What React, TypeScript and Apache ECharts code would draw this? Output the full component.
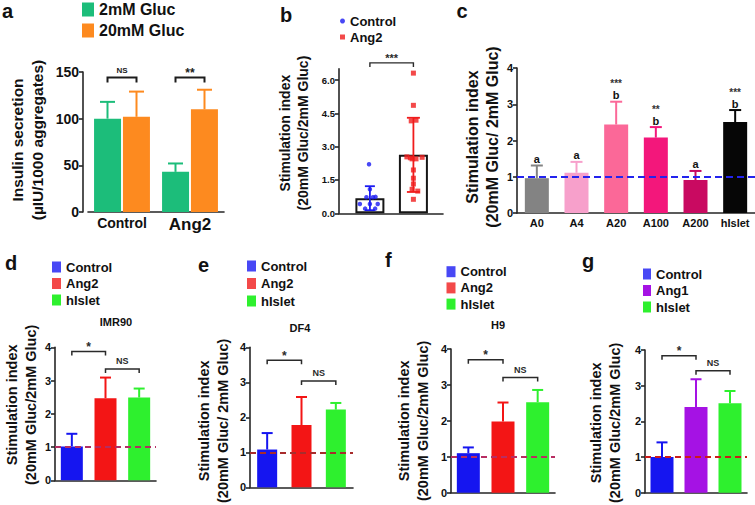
import React, { useEffect, useRef } from "react";
import * as echarts from "echarts";

const FONT = "'Liberation Sans', Arial, Helvetica, sans-serif";
const INK = "#111111";

// ---------- panel a : insulin secretion ----------
const aCategories = ["Control", "Ang2"];
const aSeriesNames = ["2mM Gluc", "20mM Gluc"];
const aLowMean = [100, 43];
const aLowSD = [18, 9];
const aHighMean = [102, 110];
const aHighSD = [27, 21];
const aSigLabels = ["NS", "**"];
const aSigHeights = [144, 144];

// ---------- panel b : stimulation index, individual points ----------
const bGroups = ["Control", "Ang2"];
const bMeans = [0.68, 2.63];
const bSD = [0.54, 1.67];
const bControlPoints = [
  [-0.02, 2.21], [0, 1.08], [-0.08, 0.72], [0.07, 0.72], [0.13, 0.74],
  [-0.23, 0.42], [0, 0.42], [0.18, 0.42], [-0.11, 0.21], [0.12, 0.21],
];
const bAng2Points = [
  [1, 6.31], [1, 4.86], [0.95, 4.16], [1.06, 4.19], [0.85, 2.54], [0.93, 2.5],
  [0.97, 2.45], [1.06, 2.45], [1.2, 2.52], [1, 1.95], [1, 1.58], [1, 1.32],
  [0.97, 1.08], [1.1, 1.0], [1, 0.63],
];
const bTickValues = [0, 1.5, 3, 4.5, 6];
const bSigLabels = ["***"];
const bSigHeights = [6.77];

// ---------- panel c : angiopoietin doses ----------
const cCategories = ["A0", "A4", "A20", "A100", "A200", "hIslet"];
const cMeans = [0.96, 1.11, 2.44, 2.08, 0.91, 2.51];
const cSD = [0.35, 0.3, 0.63, 0.29, 0.25, 0.33];
const cLetters = ["a", "a", "b", "b", "a", "b"];
const cStars = ["", "", "***", "**", "", "***"];

// ---------- panels d-g : cell lines ----------
const groupsAng2 = ["Control", "Ang2", "hIslet"];
const groupsAng1 = ["Control", "Ang1", "hIslet"];
const bracketPairs = [[0, 1], [1, 2]];
const bracketLabels = ["*", "NS"];

const dMeans = [1.02, 2.47, 2.49];
const dSD = [0.38, 0.62, 0.27];
const dBracketY = [3.87, 3.35];

const eMeans = [1.08, 1.78, 2.22];
const eSD = [0.47, 0.8, 0.19];
const eBracketY = [3.63, 3.04];

const fMeans = [1.1, 1.98, 2.52];
const fSD = [0.16, 0.53, 0.34];
const fBracketY = [3.7, 3.21];

const gMeans = [1.0, 2.4, 2.51];
const gSD = [0.41, 0.78, 0.34];
const gBracketY = [3.84, 3.42];

const smallTitles = ["IMR90", "DF4", "H9"];

// ---------- styles ----------
const aColors = ["#1cbd7a", "#fd8a1f"];
const bColors = ["#1a1af2", "#f01c1c"];
const cColors = ["#838383", "#f7a0cb", "#fb6898", "#f3177b", "#c90a61", "#060606"];
const triColors = ["#1515f0", "#f31515", "#2ef02e"];
const triColorsG = ["#1515f0", "#a512e4", "#2ef02e"];

const axisLineStyle = { color: "#262626", width: 1.6 };

function boldFont(size: number) {
  return `bold ${size}px ${FONT}`;
}

function yAxisValue(k: number, max: number, interval: number, labelSize: number, name: string, nameSize: number, lh: number, gap: number, pad: number[], offset = 0) {
  return {
    type: "value",
    gridIndex: k,
    min: 0,
    max,
    interval,
    offset,
    splitLine: { show: false },
    axisLine: { show: true, onZero: false, lineStyle: axisLineStyle },
    axisTick: { show: true, length: 4, lineStyle: axisLineStyle },
    axisLabel: { fontSize: labelSize, fontWeight: "bold", color: INK, fontFamily: FONT, margin: 4 },
    name,
    nameLocation: "middle",
    nameRotate: 90,
    nameGap: gap,
    nameTextStyle: { fontSize: nameSize, fontWeight: "bold", color: INK, fontFamily: FONT, lineHeight: lh, padding: pad },
  };
}

function upErrorRender(colors: string[], capHalf: number, offsetPx: number, lw: number) {
  return (params: any, api: any) => {
    const x = api.value(0);
    const m = api.value(1);
    const sd = api.value(2);
    const base = api.coord([x, m]);
    const top = api.coord([x, m + sd]);
    const cx = base[0] + offsetPx;
    const color = colors[params.dataIndex % colors.length];
    return {
      type: "group",
      children: [
        { type: "line", shape: { x1: cx, y1: base[1], x2: cx, y2: top[1] }, style: { stroke: color, lineWidth: lw } },
        { type: "line", shape: { x1: cx - capHalf, y1: top[1], x2: cx + capHalf, y2: top[1] }, style: { stroke: color, lineWidth: lw } },
      ],
    };
  };
}

function bracketRender(labels: string[], drop: number, color: string, lw: number, starSize: number, textSize: number, halfSpan: number) {
  return (params: any, api: any) => {
    const label = labels[params.dataIndex];
    const y = api.value(2);
    const p1 = api.coord([api.value(0), y]);
    const p2 = api.coord([api.value(1), y]);
    let x1 = p1[0];
    let x2 = p2[0];
    if (halfSpan > 0) {
      x1 = p1[0] - halfSpan;
      x2 = p1[0] + halfSpan;
    }
    const yy = p1[1];
    const isStar = label.indexOf("*") >= 0;
    const ty = yy - (isStar ? 4.5 : 7.5);
    return {
      type: "group",
      children: [
        {
          type: "polyline",
          shape: { points: [[x1, yy + drop], [x1, yy], [x2, yy], [x2, yy + drop]] },
          style: { stroke: color, lineWidth: lw, fill: "none" },
        },
        {
          type: "text",
          x: (x1 + x2) / 2,
          y: ty,
          style: {
            text: label,
            font: boldFont(isStar ? starSize : textSize),
            fill: color,
            textAlign: "center",
            align: "center",
            textVerticalAlign: "middle",
            verticalAlign: "middle",
          },
        },
      ],
    };
  };
}

function smallPanelSeries(k: number, names: string[], means: number[], sds: number[], colors: string[], bracketY: number[], dash: string, barWidth: number) {
  const series: any[] = names.map((name, i) => ({
    type: "bar",
    name,
    xAxisIndex: k,
    yAxisIndex: k,
    barWidth,
    barGap: "-100%",
    itemStyle: { color: colors[i] },
    data: means.map((m, j) => (j === i ? m : "-")),
    markLine:
      i === names.length - 1
        ? {
            silent: true,
            symbol: "none",
            label: { show: false },
            lineStyle: { type: [6, 4], color: dash, width: 1.8 },
            data: [{ yAxis: 1 }],
          }
        : undefined,
  }));
  series.push({
    type: "custom",
    name: `err${k}`,
    xAxisIndex: k,
    yAxisIndex: k,
    renderItem: upErrorRender(colors, 5.5, 0, 2),
    encode: { x: 0, y: 1 },
    data: means.map((m, i) => [i, m, sds[i]]),
    z: 3,
  });
  series.push({
    type: "custom",
    name: `sig${k}`,
    xAxisIndex: k,
    yAxisIndex: k,
    renderItem: bracketRender(bracketLabels, 4, "#2a2a2a", 1.5, 12, 9, 0),
    encode: { x: 0, y: 2 },
    data: bracketPairs.map((p, i) => [p[0], p[1], bracketY[i]]),
    z: 3,
  });
  return series;
}

function smallYAxis(k: number, secondLine: string, gap: number, pad: number[]) {
  return yAxisValue(k, 4, 1, 11, `Stimulation index\n${secondLine}`, 14.5, 19, gap, pad);
}

function smallXAxis(k: number, names: string[]) {
  return {
    type: "category",
    gridIndex: k,
    data: names,
    axisLine: { show: true, onZero: false, lineStyle: axisLineStyle },
    axisTick: { show: false },
    axisLabel: { show: false },
    splitLine: { show: false },
  };
}

function legendFor(names: any[], left: number, top: number, itemWidth: number, itemHeight: number, fontSize: number, lh: number, itemGap: number, icon?: string) {
  return {
    orient: "vertical",
    left,
    top,
    padding: 0,
    itemWidth,
    itemHeight,
    itemGap,
    ...(icon ? { icon } : {}),
    selectedMode: false,
    data: names,
    textStyle: { fontSize, fontWeight: "bold", color: INK, fontFamily: FONT, lineHeight: lh },
  };
}

function gText(text: string, x: number, y: number, size: number, align = "left") {
  return {
    type: "text",
    x,
    y,
    style: {
      text,
      font: boldFont(size),
      fill: INK,
      textAlign: align,
      align,
      textVerticalAlign: "middle",
      verticalAlign: "middle",
    },
  };
}

function cText(text: string, x: number, y: number, size: number, color: string) {
  return {
    type: "text",
    x,
    y,
    style: {
      text,
      font: boldFont(size),
      fill: color,
      lineHeight: size,
      textAlign: "center",
      align: "center",
      textVerticalAlign: "middle",
      verticalAlign: "middle",
    },
  };
}

function buildOption(): any {
  const grids = [
    { left: 88, top: 72, width: 136, height: 140 },
    { left: 339, top: 68.9, width: 104, height: 144.4 },
    { left: 517, top: 68, width: 238, height: 145 },
    { left: 55, top: 347.3, width: 101, height: 143.4 },
    { left: 250, top: 347.3, width: 103, height: 144.4 },
    { left: 451, top: 349, width: 104, height: 143.7 },
    { left: 645, top: 350, width: 102, height: 143.3 },
  ];

  const xAxes: any[] = [
    {
      type: "category",
      gridIndex: 0,
      data: aCategories,
      axisLine: { show: true, onZero: false, lineStyle: axisLineStyle },
      axisTick: { show: false },
      axisLabel: {
        margin: 4,
        interval: 0,
        formatter: (v: string) => (v === "Control" ? `{c|${v}}` : `{g|${v}}`),
        rich: {
          c: { fontSize: 14, fontWeight: "bold", color: INK, fontFamily: FONT },
          g: { fontSize: 17, fontWeight: "bold", color: INK, fontFamily: FONT },
        },
      },
    },
    {
      type: "value",
      gridIndex: 1,
      min: -0.71,
      max: 1.68,
      splitLine: { show: false },
      axisLine: { show: true, onZero: false, lineStyle: axisLineStyle },
      axisTick: { show: false },
      axisLabel: { show: false },
    },
    {
      type: "category",
      gridIndex: 2,
      data: cCategories,
      axisLine: { show: true, onZero: false, lineStyle: axisLineStyle },
      axisTick: { show: false },
      axisLabel: { margin: 4, fontSize: 11, fontWeight: "bold", color: INK, fontFamily: FONT, interval: 0 },
    },
    smallXAxis(3, groupsAng2),
    smallXAxis(4, groupsAng2),
    smallXAxis(5, groupsAng2),
    smallXAxis(6, groupsAng1),
  ];

  const bY: any = yAxisValue(1, 6.5, 1.5, 9.5, "Stimulation index\n(20mM Gluc/2mM Gluc)", 14, 18, 27, [0, 0, 0, 16]);
  delete bY.interval;
  bY.axisLabel = { ...bY.axisLabel, customValues: bTickValues, formatter: (v: number) => v.toFixed(1) };
  bY.axisTick = { ...bY.axisTick, customValues: bTickValues };

  const yAxes: any[] = [
    yAxisValue(0, 150, 50, 14, "Insulin secretion\n(µIU/1000 aggregates)", 15.5, 20, 36, [0, 0, 0, 4], 5),
    bY,
    yAxisValue(2, 4, 1, 11, "Stimulation index\n(20mM Gluc/ 2mM Gluc)", 16, 20, 11, [0, 0, 0, 7]),
    smallYAxis(3, "(20mM Gluc/2mM Gluc)", 12.5, [0, 0, 0, 18]),
    smallYAxis(4, "(20mM Gluc/ 2mM Gluc)", 17.5, [0, 7, 0, 0]),
    smallYAxis(5, "(20mM Gluc/2mM Gluc)", 18.5, [0, 0, 0, 0]),
    smallYAxis(6, "(20mM Gluc/2mM Gluc)", 20.5, [0, 3, 0, 0]),
  ];

  const series: any[] = [];

  // panel b first so that shared legend names take its colours
  series.push({
    type: "bar",
    name: "b mean",
    xAxisIndex: 1,
    yAxisIndex: 1,
    barWidth: 29,
    itemStyle: { color: "#ffffff", borderColor: "#161616", borderWidth: 2 },
    data: bMeans.map((m, i) => [i, m]),
  });
  series.push({
    type: "scatter",
    name: bGroups[0],
    xAxisIndex: 1,
    yAxisIndex: 1,
    symbol: "circle",
    symbolSize: 4.5,
    itemStyle: { color: bColors[0] },
    data: bControlPoints,
    z: 4,
  });
  series.push({
    type: "scatter",
    name: bGroups[1],
    xAxisIndex: 1,
    yAxisIndex: 1,
    symbol: "rect",
    symbolSize: 5,
    itemStyle: { color: bColors[1] },
    data: bAng2Points,
    z: 4,
  });
  series.push({
    type: "custom",
    name: "b err",
    xAxisIndex: 1,
    yAxisIndex: 1,
    encode: { x: 0, y: 1 },
    data: bMeans.map((m, i) => [i, m, bSD[i]]),
    z: 3,
    renderItem: (params: any, api: any) => {
      const x = api.value(0);
      const m = api.value(1);
      const sd = api.value(2);
      const lo = api.coord([x, m - sd]);
      const hi = api.coord([x, m + sd]);
      const col = bColors[params.dataIndex];
      const half = params.dataIndex === 0 ? 5 : 6.5;
      const st = { stroke: col, lineWidth: 1.8 };
      return {
        type: "group",
        children: [
          { type: "line", shape: { x1: lo[0], y1: lo[1], x2: hi[0], y2: hi[1] }, style: st },
          { type: "line", shape: { x1: hi[0] - half, y1: hi[1], x2: hi[0] + half, y2: hi[1] }, style: st },
          { type: "line", shape: { x1: lo[0] - half, y1: lo[1], x2: lo[0] + half, y2: lo[1] }, style: st },
        ],
      };
    },
  });
  series.push({
    type: "custom",
    name: "b sig",
    xAxisIndex: 1,
    yAxisIndex: 1,
    encode: { x: 0, y: 2 },
    data: bSigHeights.map((h) => [0, 1, h]),
    renderItem: bracketRender(bSigLabels, 4, "#2a2a2a", 1.4, 11, 9, 0),
  });

  // panel a
  const aMeansAll = [aLowMean, aHighMean];
  const aSDAll = [aLowSD, aHighSD];
  aSeriesNames.forEach((name, s) => {
    series.push({
      type: "bar",
      name,
      xAxisIndex: 0,
      yAxisIndex: 0,
      barWidth: 27,
      barGap: "7%",
      itemStyle: { color: aColors[s] },
      data: aMeansAll[s],
    });
  });
  aSeriesNames.forEach((name, s) => {
    series.push({
      type: "custom",
      name: `${name} err`,
      xAxisIndex: 0,
      yAxisIndex: 0,
      encode: { x: 0, y: 1 },
      data: aMeansAll[s].map((m, i) => [i, m, aSDAll[s][i]]),
      renderItem: upErrorRender([aColors[s]], 7.5, s === 0 ? -14.5 : 14.5, 2),
      z: 3,
    });
  });
  series.push({
    type: "custom",
    name: "a sig",
    xAxisIndex: 0,
    yAxisIndex: 0,
    encode: { x: 0, y: 2 },
    data: aSigHeights.map((h, i) => [i, i, h]),
    renderItem: bracketRender(aSigLabels, 5, "#1c1c1c", 2, 12, 8, 14.5),
  });

  // panel c
  series.push({
    type: "bar",
    name: "Stimulation index",
    xAxisIndex: 2,
    yAxisIndex: 2,
    barWidth: 24,
    data: cMeans.map((m, i) => ({ value: m, itemStyle: { color: cColors[i] } })),
    markLine: {
      silent: true,
      symbol: "none",
      label: { show: false },
      lineStyle: { type: [7, 4], color: "#2323ee", width: 2 },
      data: [{ yAxis: 1 }],
    },
  });
  series.push({
    type: "custom",
    name: "c err",
    xAxisIndex: 2,
    yAxisIndex: 2,
    encode: { x: 0, y: 1 },
    data: cMeans.map((m, i) => [i, m, cSD[i]]),
    z: 3,
    renderItem: (params: any, api: any) => {
      const i = params.dataIndex;
      const x = api.value(0);
      const m = api.value(1);
      const sd = api.value(2);
      const base = api.coord([x, m]);
      const top = api.coord([x, m + sd]);
      const col = cColors[i];
      const st = { stroke: col, lineWidth: 2 };
      const children: any[] = [
        { type: "line", shape: { x1: base[0], y1: base[1], x2: base[0], y2: top[1] }, style: st },
        { type: "line", shape: { x1: base[0] - 6, y1: top[1], x2: base[0] + 6, y2: top[1] }, style: st },
        cText(cLetters[i], base[0], top[1] - 6.5, 11, INK),
      ];
      if (cStars[i]) {
        children.push(cText(cStars[i], base[0], top[1] - 18, 10, "#333333"));
      }
      return { type: "group", children };
    },
  });

  // panels d-g
  series.push(...smallPanelSeries(3, groupsAng2, dMeans, dSD, triColors, dBracketY, "#b42d62", 22));
  series.push(...smallPanelSeries(4, groupsAng2, eMeans, eSD, triColors, eBracketY, "#a82c2c", 20));
  series.push(...smallPanelSeries(5, groupsAng2, fMeans, fSD, triColors, fBracketY, "#b82d62", 23));
  series.push(...smallPanelSeries(6, groupsAng1, gMeans, gSD, triColorsG, gBracketY, "#cc1a1a", 23));

  const legends = [
    legendFor(aSeriesNames, 82, 0.5, 12, 14, 16, 18, 3, "rect"),
    legendFor([{ name: bGroups[0], icon: "circle" }, { name: bGroups[1], icon: "rect" }], 340, 14, 5, 5, 13, 14, 2),
    legendFor(groupsAng2, 52, 259.5, 9, 11, 13, 15, 1.5, "rect"),
    legendFor(groupsAng2, 247, 258.5, 9, 11, 13, 15, 2.5, "rect"),
    legendFor(groupsAng2, 446.5, 264.2, 9, 11, 13, 15, 1.2, "rect"),
    legendFor(groupsAng1, 643, 266.5, 8, 11, 13, 15, 1.5, "rect"),
  ];

  const graphics = [
    gText("a", 2, 11.4, 20),
    gText("b", 280, 14.7, 20),
    gText("c", 456.5, 11.3, 20),
    gText("d", 5, 263, 20),
    gText("e", 198, 264.7, 20),
    gText("f", 385, 259.7, 20),
    gText("g", 582, 260.7, 20),
    gText(smallTitles[0], 116, 322.2, 11, "center"),
    gText(smallTitles[1], 300, 328, 11, "center"),
    gText(smallTitles[2], 498, 325, 11, "center"),
  ];

  return {
    animation: false,
    backgroundColor: "#ffffff",
    textStyle: { fontFamily: FONT },
    grid: grids,
    xAxis: xAxes,
    yAxis: yAxes,
    legend: legends,
    graphic: graphics,
    series,
  };
}

export default function App() {
  const ref = useRef<HTMLDivElement>(null);
  useEffect(() => {
    if (!ref.current) return;
    const chart = echarts.init(ref.current, undefined, { renderer: "svg" });
    chart.setOption(buildOption());
    return () => chart.dispose();
  }, []);
  return (
    <div
      ref={ref}
      style={{ position: "fixed", left: 0, top: 0, width: 755, height: 505, background: "#ffffff" }}
    />
  );
}
